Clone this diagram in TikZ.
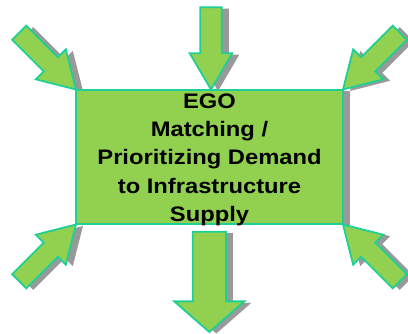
\documentclass[tikz,border=0pt]{standalone}
\usepackage{fontspec}
\newfontfamily\egofont[FakeStretch=1.13]{Liberation Sans}
\definecolor{egogreen}{RGB}{146,208,80}
\definecolor{egoteal}{RGB}{30,208,150}
\definecolor{egoshadow}{RGB}{153,153,153}
% #1 style, #2,#3 tip, #4 rotation, #5 head length, #6 head half width, #7 shaft half width, #8 total length
\newcommand\blockarr[8]{\path[#1,shift={(#2,#3)},rotate=#4] (0,0) -- (-#5,#6) -- (-#5,#7) -- (-#8,#7) -- (-#8,-#7) -- (-#5,-#7) -- (-#5,-#6) -- cycle;}
\newcommand\allarrows[1]{%
  \blockarr{#1}{76}{89.5}{-45}{35.6}{21.2}{10}{80.4}
  \blockarr{#1}{343}{89.5}{-135}{35.6}{21.2}{10}{80.4}
  \blockarr{#1}{76}{224.5}{45}{35.6}{21.2}{10}{80.4}
  \blockarr{#1}{343}{224.5}{135}{35.6}{21.2}{10}{80.4}
  \blockarr{#1}{211}{89.5}{-90}{36.3}{21.3}{10.8}{82.3}
  \blockarr{#1}{209.3}{332}{-90}{30.6}{35}{16.6}{100.3}
}
\begin{document}
\begin{tikzpicture}[x=1pt,y=-1pt,
  shadowfill/.style={fill=egoshadow,shift={(7,1.5)}},
  arrowfill/.style={fill=egogreen,draw=egoteal,line width=1.8pt,line join=miter},
  egobox/.style={draw=egoteal,fill=egogreen,line width=1.8pt,minimum width=267pt,minimum height=134pt,inner sep=0pt},
  egotextstyle/.style={align=center,inner sep=0pt,anchor=north,font={\egofont\bfseries\fontsize{21}{28.25}\selectfont}}]
\useasboundingbox (0,0) rectangle (408,334);
% shadows
\allarrows{shadowfill}
\fill[egoshadow] (83,91.5) rectangle (350,225.5);
% main box
\node[egobox] (box) at (209.5,157) {};
\node[egotextstyle] (egotext) at (209.5,93.4) {EGO\\Matching /\\Prioritizing Demand\\to Infrastructure\\Supply};
% arrows
\allarrows{arrowfill}
\end{tikzpicture}
\end{document}
